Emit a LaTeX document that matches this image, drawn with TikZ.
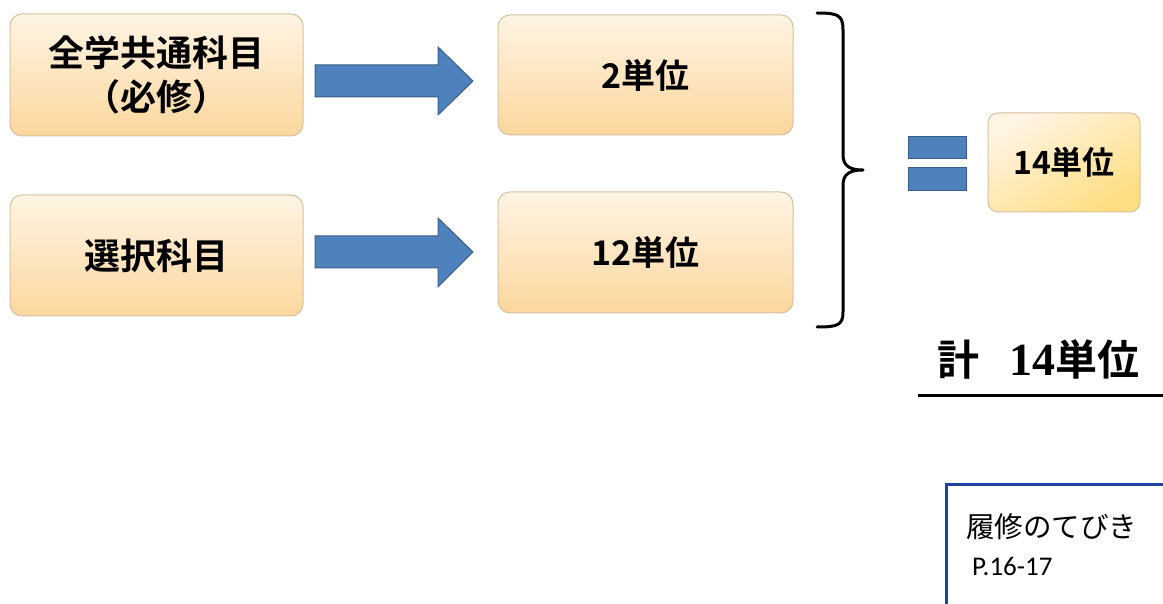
\documentclass[tikz,border=0pt]{standalone}
\usepackage{fontspec}
\newfontfamily\jpb{Noto Sans CJK JP Bold}
\newfontfamily\jpr{Noto Sans CJK JP}
\newfontfamily\serifb{Liberation Serif Bold}
\newfontfamily\calibrifont{Carlito}
\definecolor{boxtop}{RGB}{255,244,228}
\definecolor{boxbot}{RGB}{252,215,158}
\definecolor{boxline}{RGB}{214,192,160}
\definecolor{arrowfill}{RGB}{79,129,189}
\definecolor{arrowline}{RGB}{56,93,138}
\definecolor{totbot}{RGB}{255,222,130}
\definecolor{navy}{RGB}{32,66,160}
\tikzset{
  unitbox/.style={draw=boxline, line width=1pt, rounded corners=12pt, top color=boxtop, bottom color=boxbot, inner sep=0pt, font=\jpb\fontsize{36}{44}\selectfont, align=center},
  blockarrow/.style={fill=arrowfill, draw=arrowline, line width=1pt},
}
\begin{document}
\begin{tikzpicture}[x=1pt,y=-1pt]
\useasboundingbox (0,0) rectangle (1163,604);
% left boxes
\node[unitbox, minimum width=293pt, minimum height=122pt] (zen) at (156.5,75) {全学共通科目\\（必修）};
\node[unitbox, minimum width=293pt, minimum height=121pt] (sen) at (156.5,255.5) {選択科目};
% middle boxes
\node[unitbox, minimum width=295pt, minimum height=120pt, font=\jpb\fontsize{34}{40}\selectfont] (two) at (645.5,75) {2単位};
\node[unitbox, minimum width=295pt, minimum height=121pt, font=\jpb\fontsize{34}{40}\selectfont] (twelve) at (645.5,252.5) {12単位};
% block arrows
\draw[blockarrow] (315,65) -- (438,65) -- (438,47) -- (473,81) -- (438,115) -- (438,97) -- (315,97) -- cycle;
\draw[blockarrow] (315,236) -- (438,236) -- (438,218) -- (473,252) -- (438,287) -- (438,268) -- (315,268) -- cycle;
% brace
\draw[line width=3pt, line cap=round, line join=round] (817,13) .. controls (838,13) and (843,15) .. (843,30) -- (843,155) .. controls (843,166) and (850,170) .. (863,170) .. controls (850,170) and (843,174) .. (843,185) -- (843,312) .. controls (843,325) and (838,327) .. (817,327);
% equals
\draw[blockarrow] (908,137) rectangle (966,159);
\draw[blockarrow] (908,168) rectangle (966,191);
% total box
\node[draw=boxline, line width=1pt, rounded corners=10pt, top color=boxtop, bottom color=totbot, shading angle=30, minimum width=152pt, minimum height=99pt, inner sep=0pt, font=\jpb\fontsize{32}{36}\selectfont] (total) at (1064,162.5) {14単位};
% sum text
\node[anchor=base west, inner sep=0pt] (sum) at (937,375) {\fontsize{42}{46}\selectfont{\jpb 計}\hspace{30pt}{\serifb\fontsize{46}{46}\selectfont 14}{\jpb 単位}};
\coordinate (ulA) at (918,395);
\coordinate (ulB) at (1163,395);
\draw[line width=3pt] (ulA) -- (ulB);
% reference box
\coordinate (rbA) at (946,610);
\coordinate (rbB) at (946,484);
\coordinate (rbC) at (1170,484);
\draw[navy, line width=3pt] (rbA) -- (rbB) -- (rbC);
\node[anchor=base west, inner sep=0pt, font=\jpr\fontsize{28.5}{32}\selectfont] (tebiki) at (966,537) {履修のてびき};
\node[anchor=base west, inner sep=0pt, font=\calibrifont\fontsize{27}{32}\selectfont] (page) at (972,575) {P.16-17};
\end{tikzpicture}
\end{document}
